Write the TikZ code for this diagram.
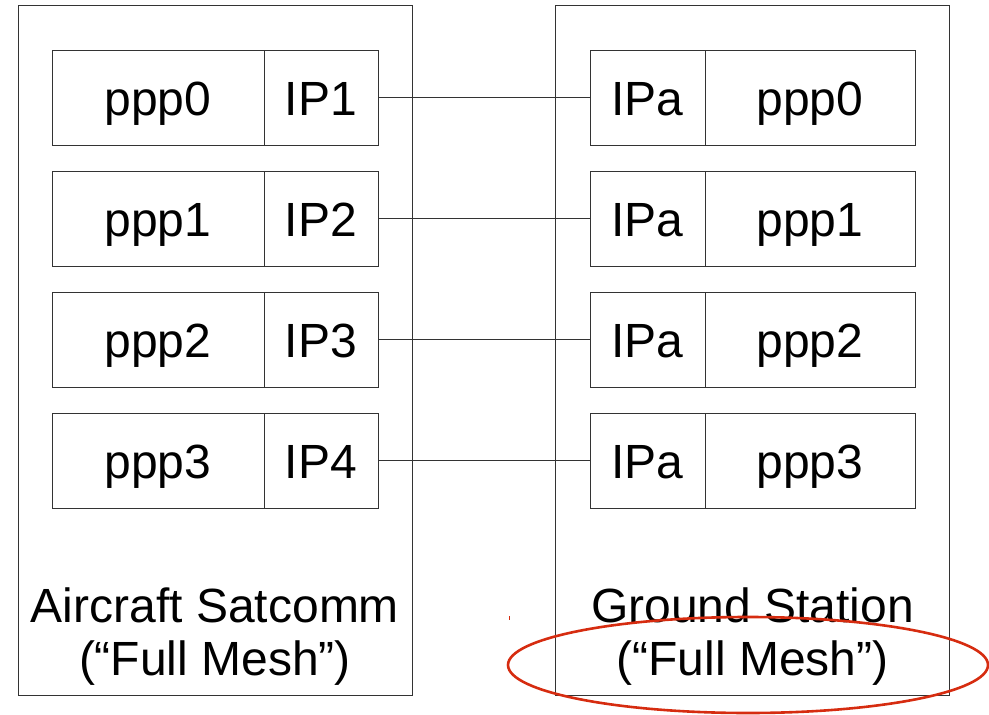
\documentclass[tikz,border=0pt]{standalone}
\usepackage{fontspec}
\setmainfont{Liberation Sans}
\definecolor{markred}{RGB}{214,44,16}
\tikzset{
  cell/.style={draw=black!80, line width=0.8pt, minimum height=95pt, inner sep=0pt,
    text height=35pt, text depth=0pt, font=\fontsize{48}{53}\selectfont},
  hostbox/.style={draw=black!80, line width=0.8pt, minimum width=394pt, minimum height=690pt, inner sep=0pt},
  hostlabel/.style={align=center, font=\fontsize{48}{53}\selectfont},
}
\begin{document}
\begin{tikzpicture}[x=1pt,y=-1pt]
  \useasboundingbox (0,0) rectangle (989,715);
  \node[hostbox] (aircraft) at (215,350) {};
  \node[hostbox] (ground) at (752.5,350) {};
  \foreach \i in {0,...,3} {
    \pgfmathtruncatemacro{\n}{\i+1}
    \pgfmathsetmacro{\rowy}{97.5+121*\i}
    \node[cell, minimum width=212pt] (pppL\i) at (158,\rowy) {ppp\i};
    \node[cell, minimum width=114pt] (ipL\i) at (321,\rowy) {IP\n};
    \node[cell, minimum width=115pt] (ipR\i) at (647.5,\rowy) {IPa};
    \node[cell, minimum width=210pt] (pppR\i) at (810,\rowy) {ppp\i};
    \draw[black!80, line width=0.8pt] (ipL\i.east) -- (ipR\i.west);
  }
  \node[hostlabel] (aircraftlbl) at (215,637) {Aircraft Satcomm\\(“Full Mesh”)};
  \node[hostlabel] (groundlbl) at (752.5,637) {Ground Station\\(“Full Mesh”)};
  \draw[markred, line width=2.6pt] (748,665) ellipse [x radius=240pt, y radius=48pt];
  \draw[markred, line width=1pt] (509,616) -- (509,620);
\end{tikzpicture}
\end{document}
